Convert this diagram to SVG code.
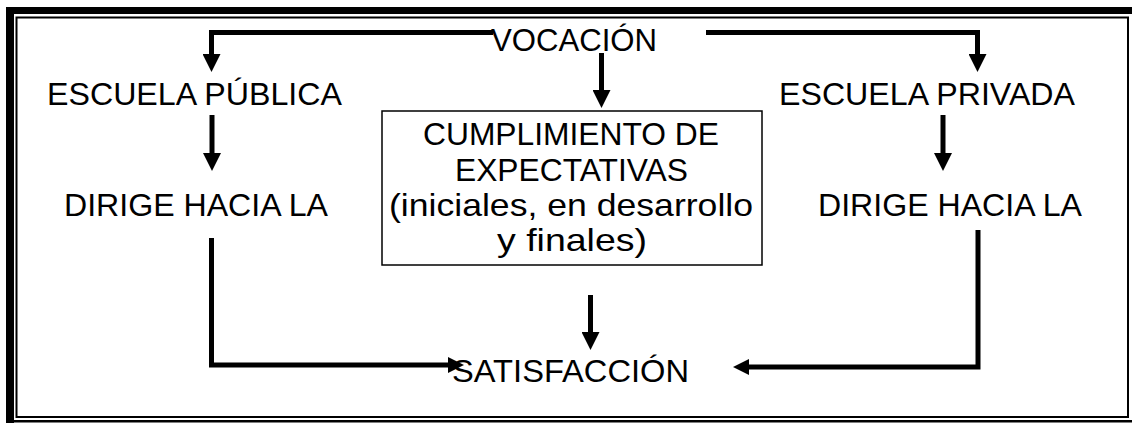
<svg xmlns="http://www.w3.org/2000/svg" width="1132" height="423" viewBox="0 0 1132 423">
<style>
  text { font-family: "Liberation Sans", Arial, sans-serif; font-size: 30.5px; fill: #000; }
  .conn { fill: none; stroke: #000; stroke-width: 5; stroke-linejoin: miter; stroke-linecap: butt; }
  .box { fill: #fff; stroke: #000; stroke-width: 1.5; }
</style>
<defs>
  <marker id="arr" viewBox="0 0 10 10" refX="0" refY="5" markerWidth="18" markerHeight="18" markerUnits="userSpaceOnUse" orient="auto">
    <path d="M0,0 L10,5 L0,10 z" fill="#000"/>
  </marker>
  <marker id="arrS" viewBox="0 0 10 10" refX="0" refY="5" markerWidth="16" markerHeight="16" markerUnits="userSpaceOnUse" orient="auto">
    <path d="M0,0 L10,5 L0,10 z" fill="#000"/>
  </marker>
</defs>
<rect width="1132" height="423" fill="#fff"/>
<g id="frame">
  <rect x="6" y="7" width="1126" height="7" fill="#000"/>
  <rect x="6" y="7" width="8" height="416" fill="#000"/>
  <rect x="16.5" y="17.5" width="1111.5" height="399.5" fill="none" stroke="#000" stroke-width="2"/>
  <rect x="6" y="420" width="1126" height="2.5" fill="#000"/>
</g>
<g id="connectors">
  <path class="conn" d="M493 32.5 H211.5 V54" marker-end="url(#arr)"/>
  <path class="conn" d="M706 32.5 H977.5 V54" marker-end="url(#arr)"/>
  <path class="conn" d="M601.5 53 V90" marker-end="url(#arr)"/>
  <path class="conn" d="M212 115 V153" marker-end="url(#arr)"/>
  <path class="conn" d="M943 115 V153" marker-end="url(#arr)"/>
  <path class="conn" d="M211.5 238 V365 H448" marker-end="url(#arrS)"/>
  <path class="conn" d="M978 230 V367 H749" marker-end="url(#arrS)"/>
  <path class="conn" d="M590.5 295 V332" marker-end="url(#arr)"/>
</g>
<g id="vocacion">
  <text x="491" y="51" textLength="166" lengthAdjust="spacingAndGlyphs">VOCACIÓN</text>
</g>
<g id="escuela-publica">
  <text x="47" y="105" textLength="295" lengthAdjust="spacingAndGlyphs">ESCUELA PÚBLICA</text>
</g>
<g id="escuela-privada">
  <text x="779" y="105" textLength="296" lengthAdjust="spacingAndGlyphs">ESCUELA PRIVADA</text>
</g>
<g id="dirige-izq">
  <text x="64" y="216" textLength="264" lengthAdjust="spacingAndGlyphs">DIRIGE HACIA LA</text>
</g>
<g id="dirige-der">
  <text x="818" y="216" textLength="264" lengthAdjust="spacingAndGlyphs">DIRIGE HACIA LA</text>
</g>
<g id="expectativas">
  <rect class="box" x="382" y="111" width="380" height="154"/>
  <text x="423" y="145" textLength="296" lengthAdjust="spacingAndGlyphs">CUMPLIMIENTO DE</text>
  <text x="455" y="181" textLength="233" lengthAdjust="spacingAndGlyphs">EXPECTATIVAS</text>
  <text x="389" y="216" textLength="364" lengthAdjust="spacingAndGlyphs">(iniciales, en desarrollo</text>
  <text x="497" y="251" textLength="150" lengthAdjust="spacingAndGlyphs">y finales)</text>
</g>
<g id="satisfaccion">
  <text x="452" y="382" textLength="237" lengthAdjust="spacingAndGlyphs">SATISFACCIÓN</text>
</g>
</svg>
